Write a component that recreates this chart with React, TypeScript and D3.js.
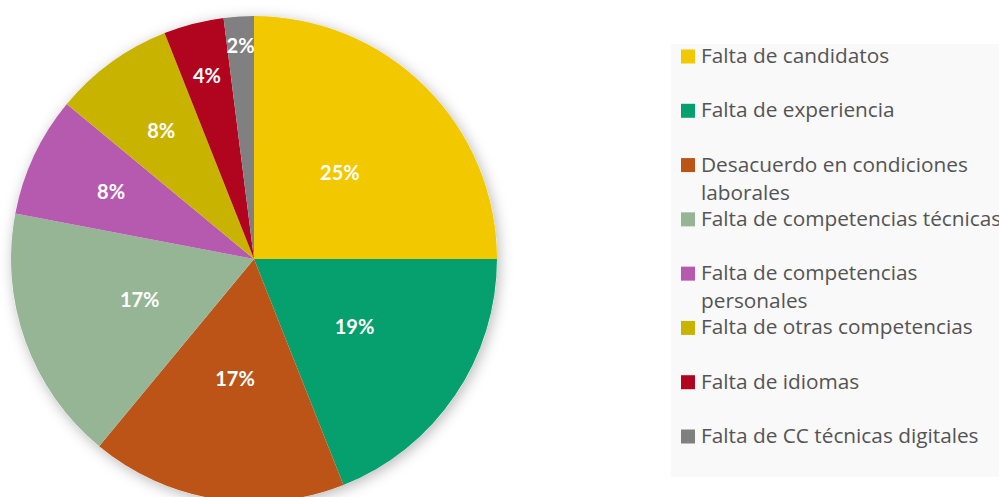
import React from 'react';
import * as d3 from 'd3';

// Motivos de dificultad (cada etiqueta se parte en líneas con '|')
const categories = [
  'Falta de candidatos',
  'Falta de experiencia',
  'Desacuerdo en condiciones|laborales',
  'Falta de competencias técnicas',
  'Falta de competencias|personales',
  'Falta de otras competencias',
  'Falta de idiomas',
  'Falta de CC técnicas digitales',
];
const values = [25, 19, 17, 17, 8, 8, 4, 2];
const colors = ['#F2C800', '#05A06E', '#BC5418', '#95B595', '#B55AAF', '#C8B400', '#B0041F', '#808080'];

const width = 999;
const height = 497;
const cx = 254;
const cy = 259;
const radius = 243;

const App = () => {
  const data = categories.map((name, i) => ({ name, value: values[i], color: colors[i] }));

  const pie = d3.pie<any>().sort(null).value((d) => d.value);
  const arcs = pie(data);
  const arc = d3.arc<any>().innerRadius(0).outerRadius(radius);
  const totalVal = d3.sum(values);

  // small slices push their labels outward (best-fit style)
  const labelR = d3.scaleLinear().domain([2, 4, 8, 17]).range([0.88, 0.78, 0.65, 0.5]).clamp(true);

  // Legend position
  const legendY = d3.scaleLinear().domain([0, categories.length - 1]).range([63, 443]);

  return (
    <div style={{ position: 'absolute', left: 0, top: 0 }}>
      <svg width={width} height={height} style={{ display: 'block', background: '#ffffff' }}>
        <defs>
          <filter id="shadow" x="-20%" y="-20%" width="140%" height="140%">
            <feDropShadow dx="2" dy="3" stdDeviation="7" floodColor="#000" floodOpacity="0.28" />
          </filter>
        </defs>

        <g transform={`translate(${cx}, ${cy})`}>
          <circle r={radius} fill="#ffffff" filter="url(#shadow)" />
          {arcs.map((a, i) => (
            <path key={i} d={arc(a) as string} fill={a.data.color} />
          ))}
          {arcs.map((a, i) => {
            const mid = (a.startAngle + a.endAngle) / 2;
            const r = radius * labelR(a.data.value);
            const x = Math.sin(mid) * r;
            const y = -Math.cos(mid) * r;
            return (
              <text
                key={'l' + i}
                x={x}
                y={y}
                dy="0.36em"
                textAnchor="middle"
                fill="#ffffff"
                fontFamily="Lato, 'Open Sans', sans-serif"
                fontWeight="bold"
                fontSize={20}
              >
                {d3.format('.0%')(a.data.value / totalVal)}
              </text>
            );
          })}
        </g>

        {/* Legend */}
        <rect x={671} y={44} width={330} height={433} fill="#f9f9f9" />
        {data.map((d, i) => {
          const base = legendY(i);
          const lines = d.name.split('|');
          return (
            <g key={'lg' + i}>
              <rect x={681} y={base - 13.5} width={14} height={14} fill={d.color} />
              <text
                x={701}
                y={base}
                fill="#545454"
                fontFamily="'Open Sans', sans-serif"
                fontSize={20.8}
              >
                {lines.map((t, j) => (
                  <tspan key={j} x={701} dy={j === 0 ? 0 : 28}>
                    {t}
                  </tspan>
                ))}
              </text>
            </g>
          );
        })}
      </svg>
    </div>
  );
};

export default App;
